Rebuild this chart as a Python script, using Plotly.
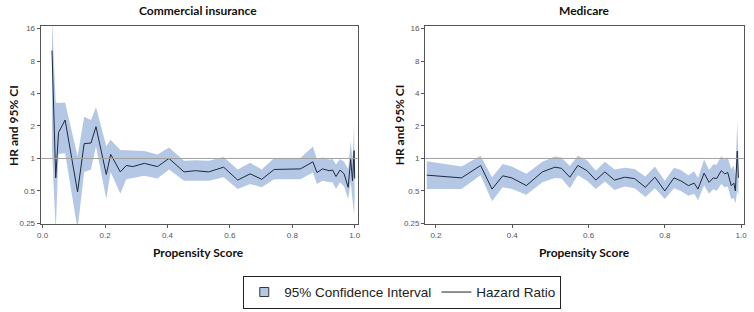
import plotly.graph_objects as go
import math

# ---- Commercial insurance panel ----
com_ps = [0.030, 0.042, 0.051, 0.072, 0.112, 0.133, 0.155, 0.171, 0.204, 0.218, 0.249, 0.268, 0.289,
          0.326, 0.368, 0.405, 0.453, 0.490, 0.532, 0.580, 0.625, 0.665, 0.702, 0.742, 0.826, 0.866,
          0.879, 0.897, 0.918, 0.929, 0.940, 0.953, 0.966, 0.979, 0.987, 0.993, 0.998, 1.000]
com_hr = [10.0, 0.66, 1.74, 2.27, 0.49, 1.37, 1.39, 1.97, 0.71, 1.09, 0.75, 0.86, 0.84,
          0.90, 0.84, 1.00, 0.75, 0.77, 0.75, 0.83, 0.63, 0.72, 0.64, 0.79, 0.80, 0.93,
          0.74, 0.80, 0.77, 0.78, 0.68, 0.78, 0.72, 0.54, 0.98, 0.62, 1.18, 0.65]
com_lo = [1.20, 0.21, 1.10, 1.12, 0.22, 0.75, 0.79, 1.30, 0.42, 0.75, 0.47, 0.64, 0.66,
          0.69, 0.65, 0.79, 0.62, 0.62, 0.62, 0.67, 0.52, 0.58, 0.54, 0.64, 0.64, 0.74,
          0.58, 0.62, 0.60, 0.60, 0.52, 0.60, 0.55, 0.42, 0.60, 0.40, 0.30, 0.45]
com_hi = [20.0, 3.30, 3.26, 3.30, 1.05, 2.43, 2.27, 3.00, 1.30, 1.49, 1.20, 1.19, 1.18,
          1.17, 1.09, 1.26, 0.95, 0.96, 0.95, 1.03, 0.79, 0.91, 0.79, 1.01, 1.01, 1.29,
          0.98, 1.02, 0.98, 0.99, 0.88, 0.99, 0.93, 0.80, 1.44, 0.98, 2.10, 1.00]

# ---- Medicare panel ----
med_ps = [0.176, 0.267, 0.317, 0.347, 0.375, 0.399, 0.437, 0.479, 0.512, 0.529, 0.551, 0.572,
          0.596, 0.619, 0.643, 0.668, 0.695, 0.721, 0.749, 0.774, 0.800, 0.824, 0.842, 0.862,
          0.877, 0.887, 0.903, 0.916, 0.927, 0.936, 0.948, 0.957, 0.965, 0.974, 0.981, 0.985,
          0.990, 0.993]
med_hr = [0.70, 0.66, 0.86, 0.52, 0.69, 0.66, 0.56, 0.75, 0.83, 0.81, 0.67, 0.86,
          0.77, 0.63, 0.75, 0.63, 0.67, 0.65, 0.54, 0.67, 0.50, 0.66, 0.62, 0.56,
          0.59, 0.52, 0.73, 0.60, 0.66, 0.65, 0.77, 0.72, 0.74, 0.56, 0.59, 0.50,
          1.17, 0.66]
med_lo = [0.52, 0.52, 0.70, 0.40, 0.54, 0.52, 0.46, 0.60, 0.66, 0.65, 0.53, 0.70,
          0.62, 0.52, 0.61, 0.51, 0.55, 0.53, 0.44, 0.53, 0.42, 0.53, 0.50, 0.45,
          0.47, 0.41, 0.56, 0.47, 0.52, 0.50, 0.58, 0.54, 0.55, 0.42, 0.43, 0.38,
          0.50, 0.45]
med_hi = [0.94, 0.84, 1.06, 0.67, 0.89, 0.84, 0.72, 0.93, 1.04, 1.02, 0.85, 1.06,
          0.96, 0.77, 0.93, 0.79, 0.82, 0.80, 0.68, 0.84, 0.62, 0.82, 0.78, 0.70,
          0.76, 0.66, 0.98, 0.78, 0.88, 0.88, 1.05, 0.98, 1.02, 0.80, 0.86, 0.70,
          2.20, 1.00]

y_ticks = [0.25, 0.5, 1, 2, 4, 8, 16]
y_tick_text = ["0.25", "0.5", "1", "2", "4", "8", "16"]

BAND = "#b4c8e6"
LINE = "#1e2a3c"
W, H = 754, 312

fig = go.Figure()

def add_panel(ps, hr, lo, hi, xa, ya):
    fig.add_trace(go.Scatter(
        x=list(ps) + list(ps)[::-1], y=list(hi) + list(lo)[::-1],
        fill="toself", fillcolor=BAND, line=dict(width=0, color=BAND),
        mode="lines", showlegend=False, xaxis=xa, yaxis=ya, hoverinfo="skip"))
    fig.add_trace(go.Scatter(
        x=ps, y=hr, mode="lines", showlegend=False,
        line=dict(color=LINE, width=1), xaxis=xa, yaxis=ya))

add_panel(com_ps, com_hr, com_lo, com_hi, "x", "y")
add_panel(med_ps, med_hr, med_lo, med_hi, "x2", "y2")

# legend entries
fig.add_trace(go.Scatter(x=[None], y=[None], mode="markers", name="95% Confidence Interval",
                         marker=dict(symbol="square", size=9, color=BAND,
                                     line=dict(color="#333", width=1))))
fig.add_trace(go.Scatter(x=[None], y=[None], mode="lines", name="Hazard Ratio",
                         line=dict(color="#222", width=1)))

# reference line y=1 across full panel width
for xr, yr_ in (("x domain", "y"), ("x2 domain", "y2")):
    fig.add_shape(type="line", xref=xr, yref=yr_, x0=0, x1=1, y0=1, y1=1,
                  line=dict(color="#a0a0a0", width=1), layer="above")

yr = [math.log10(2 ** (-2 - 1 / 33)), math.log10(2 ** (4 + 3 / 33))]
ydom = [1 - 227 / H, 1 - 25 / H]
tickfont = dict(family="Liberation Sans, Arial", size=8, color="#555")
axis_common = dict(showgrid=False, zeroline=False, showline=True, mirror=True,
                   linecolor="#555", linewidth=1, ticks="outside", ticklen=3,
                   tickcolor="#555", tickfont=tickfont)

fig.update_layout(
    width=W, height=H, autosize=False,
    margin=dict(l=0, r=0, t=0, b=0),
    paper_bgcolor="white", plot_bgcolor="rgba(0,0,0,0)",
    xaxis=dict(domain=[37 / W, 357 / W], range=[-0.0063, 1.0095],
               tickvals=[0, 0.2, 0.4, 0.6, 0.8, 1.0], tickformat=".1f", anchor="y", **axis_common),
    yaxis=dict(domain=ydom, type="log", range=yr, tickvals=y_ticks, ticktext=y_tick_text,
               anchor="x", **axis_common),
    xaxis2=dict(domain=[425 / W, 747 / W], range=[0.1714, 1.0078],
                tickvals=[0.2, 0.4, 0.6, 0.8, 1.0], tickformat=".1f", anchor="y2", **axis_common),
    yaxis2=dict(domain=ydom, type="log", range=yr, tickvals=y_ticks, ticktext=y_tick_text,
                anchor="x2", **axis_common),
    legend=dict(orientation="h", x=402 / W, xanchor="center", y=1 - 296 / H, yanchor="middle",
                bordercolor="#222", borderwidth=1, bgcolor="white",
                font=dict(family="Liberation Sans, Arial", size=13.5, color="#222"),
                itemwidth=30, tracegroupgap=0),
)

title_font = dict(family="Lato, Open Sans", size=12, color="#111")
ann = [
    ("Commercial insurance", 196, 10, 0),
    ("Medicare", 586, 10, 0),
    ("Propensity Score", 196, 256, 0),
    ("Propensity Score", 586, 256, 0),
    ("HR and 95% CI", 10, 126, -90),
    ("HR and 95% CI", 400, 126, -90),
]
for text, px, py, ang in ann:
    fig.add_annotation(text=f"<b>{text}</b>", x=px / W, y=1 - py / H, xref="paper", yref="paper",
                       showarrow=False, textangle=ang, font=title_font,
                       xanchor="center", yanchor="middle")

fig.write_html("out.html", config={"displayModeBar": False},
               post_script="document.body.style.margin='0';document.body.style.overflow='hidden';")
